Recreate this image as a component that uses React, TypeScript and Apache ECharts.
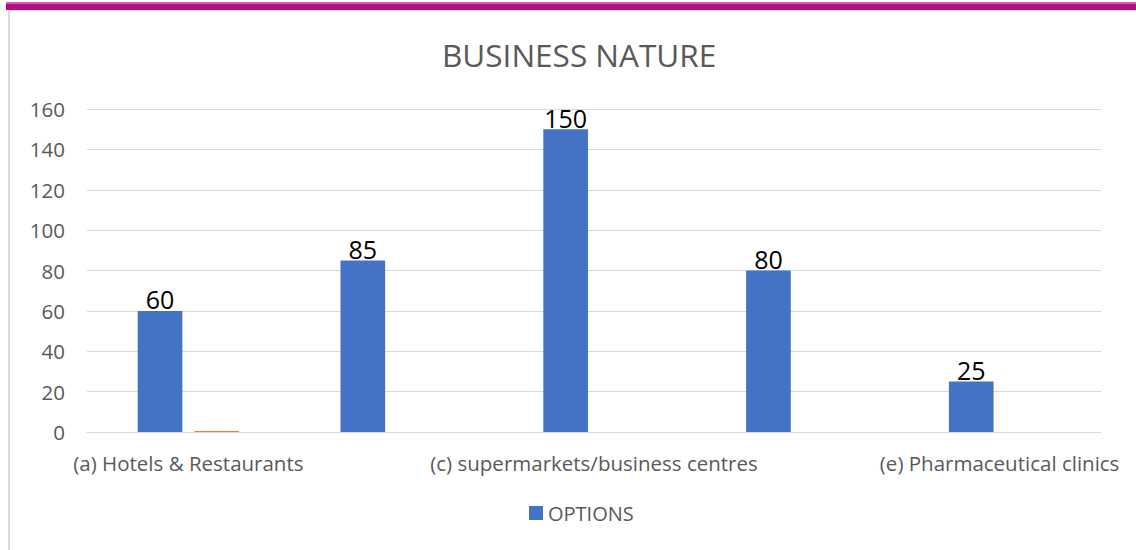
import React, { useEffect, useRef } from "react";
import * as echarts from "echarts";

const categories = [
  "(a) Hotels & Restaurants",
  "(b) Offices",
  "(c) supermarkets/business centres",
  "(d) Industries",
  "(e) Pharmaceutical clinics",
];
const optionsValues = [60, 85, 150, 80, 25];
const series2Values = [0.5, 0, 0, 0, 0];
const yTicks = { min: 0, max: 160, interval: 20 };
const titleText = "BUSINESS NATURE";
const legendName = "OPTIONS";

const FONT = "'Open Sans', 'Liberation Sans', sans-serif";

export default function App() {
  const ref = useRef<HTMLDivElement>(null);
  useEffect(() => {
    if (!ref.current) return;
    const chart = echarts.init(ref.current, null, { renderer: "svg" });
    chart.setOption({
      animation: false,
      backgroundColor: "#ffffff",
      textStyle: { fontFamily: FONT },
      title: {
        text: titleText,
        left: 437,
        top: 33,
        textStyle: { fontSize: 31.5, fontWeight: "normal", color: "#595959", fontFamily: FONT },
      },
      legend: {
        data: [legendName],
        bottom: 22,
        left: 524,
        icon: "rect",
        itemWidth: 14,
        itemHeight: 14,
        itemGap: 6,
        textStyle: { fontSize: 20, color: "#595959", fontFamily: FONT },
      },
      grid: { left: 87, right: 35, top: 109, bottom: 118, containLabel: false },
      xAxis: {
        type: "category",
        data: categories,
        axisLine: { lineStyle: { color: "#d9d9d9" } },
        axisTick: { show: false },
        axisLabel: { interval: 1, fontSize: 20.5, color: "#595959", margin: 20, fontFamily: FONT },
      },
      yAxis: {
        type: "value",
        min: yTicks.min,
        max: yTicks.max,
        interval: yTicks.interval,
        axisLine: { show: false },
        axisTick: { show: false },
        splitLine: { lineStyle: { color: "#d9d9d9" } },
        axisLabel: { fontSize: 20.5, color: "#595959", margin: 22, fontFamily: FONT },
      },
      series: [
        {
          name: legendName,
          type: "bar",
          data: optionsValues,
          itemStyle: { color: "#4472C4" },
          barGap: "27%",
          barCategoryGap: "50%",
          label: { show: true, position: "top", fontSize: 25, color: "#000000", distance: -1, fontFamily: FONT },
        },
        {
          name: "Series2",
          type: "bar",
          data: series2Values,
          itemStyle: { color: "#ED7D31" },
        },
      ],
      graphic: [
        { type: "rect", shape: { x: 6, y: 2, width: 1130, height: 2 }, style: { fill: "#e455c4" } },
        { type: "rect", shape: { x: 6, y: 4, width: 1130, height: 6 }, style: { fill: "#b0107c" } },
        { type: "rect", shape: { x: 8, y: 10, width: 1128, height: 1 }, style: { fill: "#d9d9d9" } },
        { type: "rect", shape: { x: 8, y: 10, width: 2, height: 540 }, style: { fill: "#d9d9d9" } },
      ],
    });
    return () => chart.dispose();
  }, []);
  return (
    <div
      ref={ref}
      style={{ position: "fixed", left: 0, top: 0, width: 1136, height: 550 }}
    />
  );
}
